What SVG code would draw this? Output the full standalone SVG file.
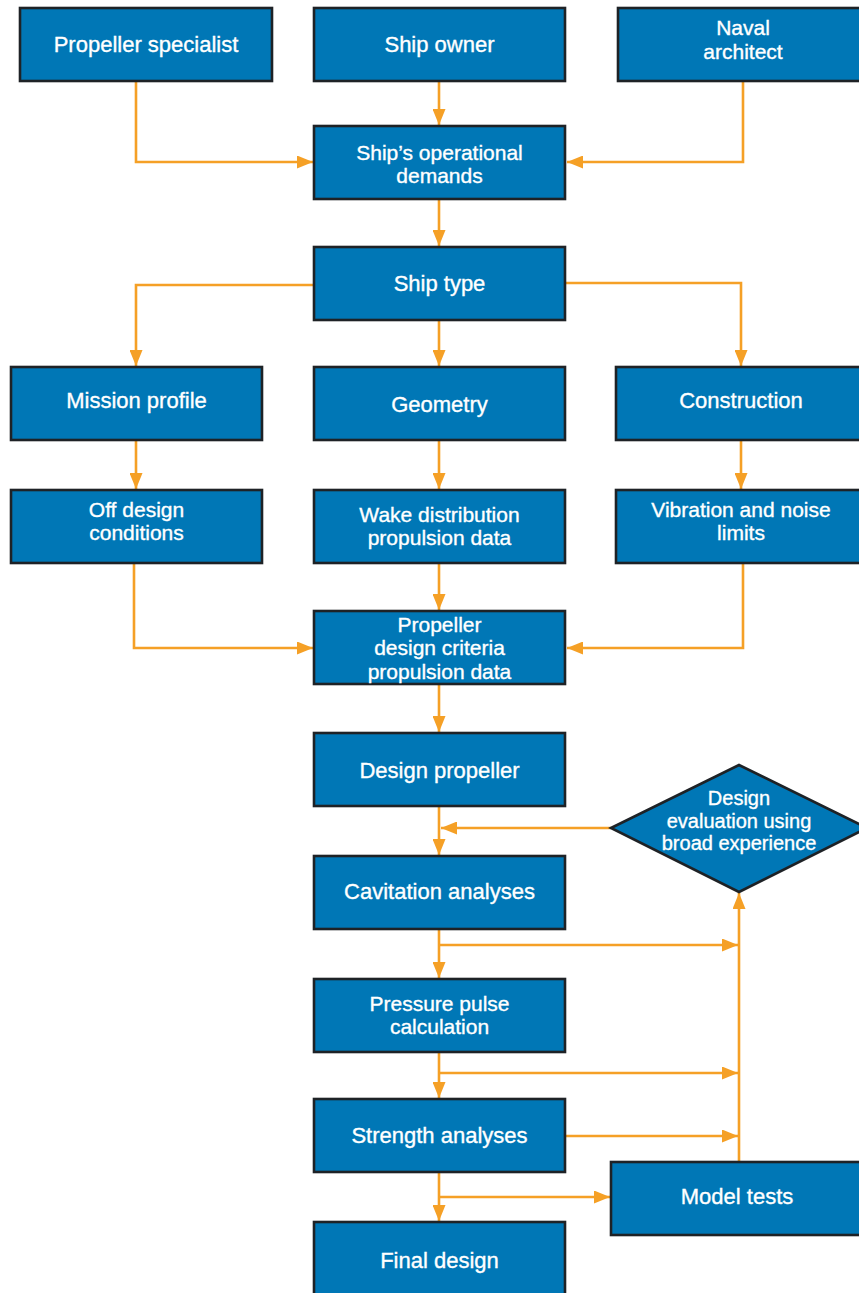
<svg xmlns="http://www.w3.org/2000/svg" width="859" height="1293" viewBox="0 0 859 1293">
<defs>
<style>
.box{fill:#0077b6;stroke:#1e2226;stroke-width:2.6}
.t{font-family:"Liberation Sans",Arial,sans-serif;font-size:22px;fill:#ffffff;stroke:#ffffff;stroke-width:0.35;text-anchor:middle}
.m{font-size:21px}
.d{font-size:20px}
.c{fill:none;stroke:#f5a026;stroke-width:2.6}
</style>
<marker id="ah" markerUnits="userSpaceOnUse" markerWidth="17" markerHeight="13" refX="16" refY="6.5" orient="auto">
<path d="M0,0 L16,6.5 L0,13 z" fill="#f5a026"/>
</marker>
</defs>
<rect width="859" height="1293" fill="#ffffff"/>
<g id="connectors">
<path class="c" d="M136,81 V162 H313" marker-end="url(#ah)"/>
<path class="c" d="M439,81 V125" marker-end="url(#ah)"/>
<path class="c" d="M743,81 V162 H567" marker-end="url(#ah)"/>
<path class="c" d="M439,199 V246" marker-end="url(#ah)"/>
<path class="c" d="M314,285 H136 V366" marker-end="url(#ah)"/>
<path class="c" d="M439,320 V366" marker-end="url(#ah)"/>
<path class="c" d="M565,283 H741 V366" marker-end="url(#ah)"/>
<path class="c" d="M136,440 V489" marker-end="url(#ah)"/>
<path class="c" d="M439,440 V489" marker-end="url(#ah)"/>
<path class="c" d="M741,440 V489" marker-end="url(#ah)"/>
<path class="c" d="M134,563 V648 H313" marker-end="url(#ah)"/>
<path class="c" d="M439,563 V610" marker-end="url(#ah)"/>
<path class="c" d="M743,563 V648 H567" marker-end="url(#ah)"/>
<path class="c" d="M439,684 V732" marker-end="url(#ah)"/>
<path class="c" d="M439,806 V855" marker-end="url(#ah)"/>
<path class="c" d="M611,828 H441" marker-end="url(#ah)"/>
<path class="c" d="M439,929 V978" marker-end="url(#ah)"/>
<path class="c" d="M439,945 H738" marker-end="url(#ah)"/>
<path class="c" d="M439,1052 V1098" marker-end="url(#ah)"/>
<path class="c" d="M439,1073 H738" marker-end="url(#ah)"/>
<path class="c" d="M566,1136 H738" marker-end="url(#ah)"/>
<path class="c" d="M739,1162 V893" marker-end="url(#ah)"/>
<path class="c" d="M439,1172 V1221" marker-end="url(#ah)"/>
<path class="c" d="M439,1197 H610" marker-end="url(#ah)"/>
</g>
<g id="propeller-specialist"><rect class="box" x="20" y="8" width="252" height="73"/><text class="t" x="146" y="52">Propeller specialist</text></g>
<g id="ship-owner"><rect class="box" x="314" y="8" width="251" height="73"/><text class="t" x="439.5" y="52">Ship owner</text></g>
<g id="naval-architect"><rect class="box" x="618" y="8" width="250" height="73"/><text class="t m" x="743" y="35.3">Naval<tspan x="743" dy="23.5">architect</tspan></text></g>
<g id="operational-demands"><rect class="box" x="314" y="126" width="251" height="73"/><text class="t m" x="439.5" y="159.5">Ship’s operational<tspan x="439.5" dy="23.5">demands</tspan></text></g>
<g id="ship-type"><rect class="box" x="314" y="247" width="251" height="73"/><text class="t" x="439.5" y="291">Ship type</text></g>
<g id="mission-profile"><rect class="box" x="11" y="367" width="251" height="73"/><text class="t" x="136.5" y="408">Mission profile</text></g>
<g id="geometry"><rect class="box" x="314" y="367" width="251" height="73"/><text class="t" x="439.5" y="412">Geometry</text></g>
<g id="construction"><rect class="box" x="616" y="367" width="252" height="73"/><text class="t" x="741" y="408">Construction</text></g>
<g id="off-design"><rect class="box" x="11" y="490" width="251" height="73"/><text class="t m" x="136.5" y="516.5">Off design<tspan x="136.5" dy="23.5">conditions</tspan></text></g>
<g id="wake-distribution"><rect class="box" x="314" y="490" width="251" height="73"/><text class="t m" x="439.5" y="521.5">Wake distribution<tspan x="439.5" dy="23.5">propulsion data</tspan></text></g>
<g id="vibration-noise"><rect class="box" x="616" y="490" width="252" height="73"/><text class="t m" x="741" y="516.5">Vibration and noise<tspan x="741" dy="23.5">limits</tspan></text></g>
<g id="design-criteria"><rect class="box" x="314" y="611" width="251" height="73"/><text class="t m" x="439.5" y="631.5">Propeller<tspan x="439.5" dy="23.5">design criteria</tspan><tspan x="439.5" dy="23.5">propulsion data</tspan></text></g>
<g id="design-propeller"><rect class="box" x="314" y="733" width="251" height="73"/><text class="t" x="439.5" y="778">Design propeller</text></g>
<g id="design-evaluation"><polygon class="box" points="611,828 739,765 867,828 739,892"/><text class="t d" x="739" y="805.1">Design<tspan x="739" dy="22.4">evaluation using</tspan><tspan x="739" dy="22.4">broad experience</tspan></text></g>
<g id="cavitation"><rect class="box" x="314" y="856" width="251" height="73"/><text class="t" x="439.5" y="899">Cavitation analyses</text></g>
<g id="pressure-pulse"><rect class="box" x="314" y="979" width="251" height="73"/><text class="t m" x="439.5" y="1010.5">Pressure pulse<tspan x="439.5" dy="23.5">calculation</tspan></text></g>
<g id="strength"><rect class="box" x="314" y="1099" width="251" height="73"/><text class="t" x="439.5" y="1143">Strength analyses</text></g>
<g id="model-tests"><rect class="box" x="611" y="1162" width="257" height="73"/><text class="t" x="737" y="1204">Model tests</text></g>
<g id="final-design"><rect class="box" x="314" y="1222" width="251" height="80"/><text class="t" x="439.5" y="1268">Final design</text></g>
</svg>
